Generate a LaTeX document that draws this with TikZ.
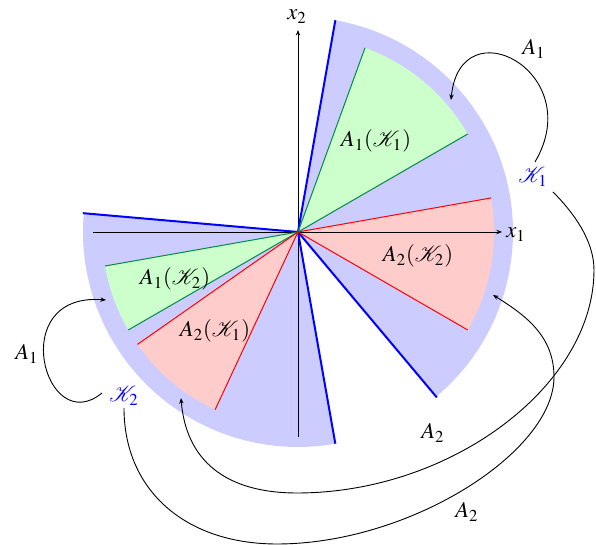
\documentclass[tikz,border=0pt]{standalone}
\usepackage{mathptmx}
\usepackage{mathrsfs}
\usetikzlibrary{arrows.meta}
\definecolor{kfill}{RGB}{204,204,255}
\definecolor{gfill}{RGB}{204,255,204}
\definecolor{rfill}{RGB}{255,204,204}
\definecolor{gedge}{RGB}{0,140,70}
\begin{document}
\begin{tikzpicture}[x=0.5pt,y=0.5pt,
  lab/.style={inner sep=0pt,anchor=base,font=\fontsize{11.3}{13}\selectfont},
  conn/.style={line width=0.45pt,-{Stealth[length=2.8pt,width=2.2pt]}},
  axis/.style={line width=0.45pt,-{Stealth[length=2.8pt,width=2.2pt]}},
  kedge/.style={blue,line width=1pt},
  gline/.style={gedge,line width=0.5pt},
  rline/.style={red,line width=0.5pt}]
\useasboundingbox (0,0) rectangle (596,545);
\begin{scope}[shift={(298,313)}]
  % blue sectors K1, K2
  \fill[kfill] (0,0) -- (-50:215) arc[start angle=-50,end angle=80,radius=215] -- cycle;
  \fill[kfill] (0,0) -- (175:215) arc[start angle=175,end angle=280,radius=215] -- cycle;
  % green and red sectors
  \fill[gfill] (0,0) -- (30:196) arc[start angle=30,end angle=70,radius=196] -- cycle;
  \fill[rfill] (0,0) -- (-30:196) arc[start angle=-30,end angle=10,radius=196] -- cycle;
  \fill[gfill] (0,0) -- (190:196) arc[start angle=190,end angle=210,radius=196] -- cycle;
  \fill[rfill] (0,0) -- (215:196) arc[start angle=215,end angle=245,radius=196] -- cycle;
\end{scope}
% axes
\coordinate (O) at (298,313);
\coordinate (xl) at (93,313);
\coordinate (xr) at (502,313);
\coordinate (yb) at (298,108);
\coordinate (yt) at (298,515);
\draw[axis] (xl) -- (xr);
\draw[axis] (yb) -- (yt);
\node[lab,anchor=base west] (x1) at (506,307) {$x_1$};
\node[lab] (x2) at (297,525) {$x_2$};
% sector edges
\begin{scope}[shift={(298,313)}]
  \draw[kedge] (0,0) -- (80:215);
  \draw[kedge] (0,0) -- (-50:216);
  \draw[kedge] (0,0) -- (175:216);
  \draw[kedge] (0,0) -- (280:215);
  \draw[gline] (0,0) -- (30:196);
  \draw[gline] (0,0) -- (70:196);
  \draw[rline] (0,0) -- (-30:196);
  \draw[rline] (0,0) -- (10:196);
  \draw[gline] (0,0) -- (190:196);
  \draw[gline] (0,0) -- (210:196);
  \draw[rline] (0,0) -- (215:196);
  \draw[rline] (0,0) -- (245:196);
\end{scope}
% labels
\node[lab] (a1k1) at (376,398) {$A_1(\mathscr{K}_1)$};
\node[lab] (a2k2) at (418,283) {$A_2(\mathscr{K}_2)$};
\node[lab] (a1k2) at (175,260) {$A_1(\mathscr{K}_2)$};
\node[lab] (a2k1) at (215,208) {$A_2(\mathscr{K}_1)$};
\node[lab,text=blue] (K1) at (533,362) {$\mathscr{K}_1$};
\node[lab,text=blue] (K2) at (124,143) {$\mathscr{K}_2$};
\node[lab] (la1t) at (534,490) {$A_1$};
\node[lab] (la1l) at (27,185) {$A_1$};
\node[lab] (la2u) at (433,106) {$A_2$};
\node[lab] (la2l) at (467,27) {$A_2$};
% connector end points
\coordinate (c1s) at (535,383);
\coordinate (c1e) at (451,445);
\coordinate (c2s) at (102,152);
\coordinate (c2e) at (106,245);
\coordinate (c3s) at (553,353);
\coordinate (c3e) at (181,147);
\coordinate (c4s) at (124,137);
\coordinate (c4e) at (493,250);
% connectors
\draw[conn] (c1s) .. controls (588,473) and (460,540) .. (c1e);
\draw[conn] (c2s) .. controls (45,105) and (5,253) .. (c2e);
\draw[conn] (c3s) .. controls (573,333) and (594,305) .. (594,275)
  .. controls (594,160) and (452,52) .. (297,52)
  .. controls (225,52) and (186,85) .. (c3e);
\draw[conn] (c4s) .. controls (124,55) and (185,1) .. (277,1)
  .. controls (410,1) and (554,93) .. (554,168)
  .. controls (554,208) and (527,229) .. (c4e);
\end{tikzpicture}
\end{document}
